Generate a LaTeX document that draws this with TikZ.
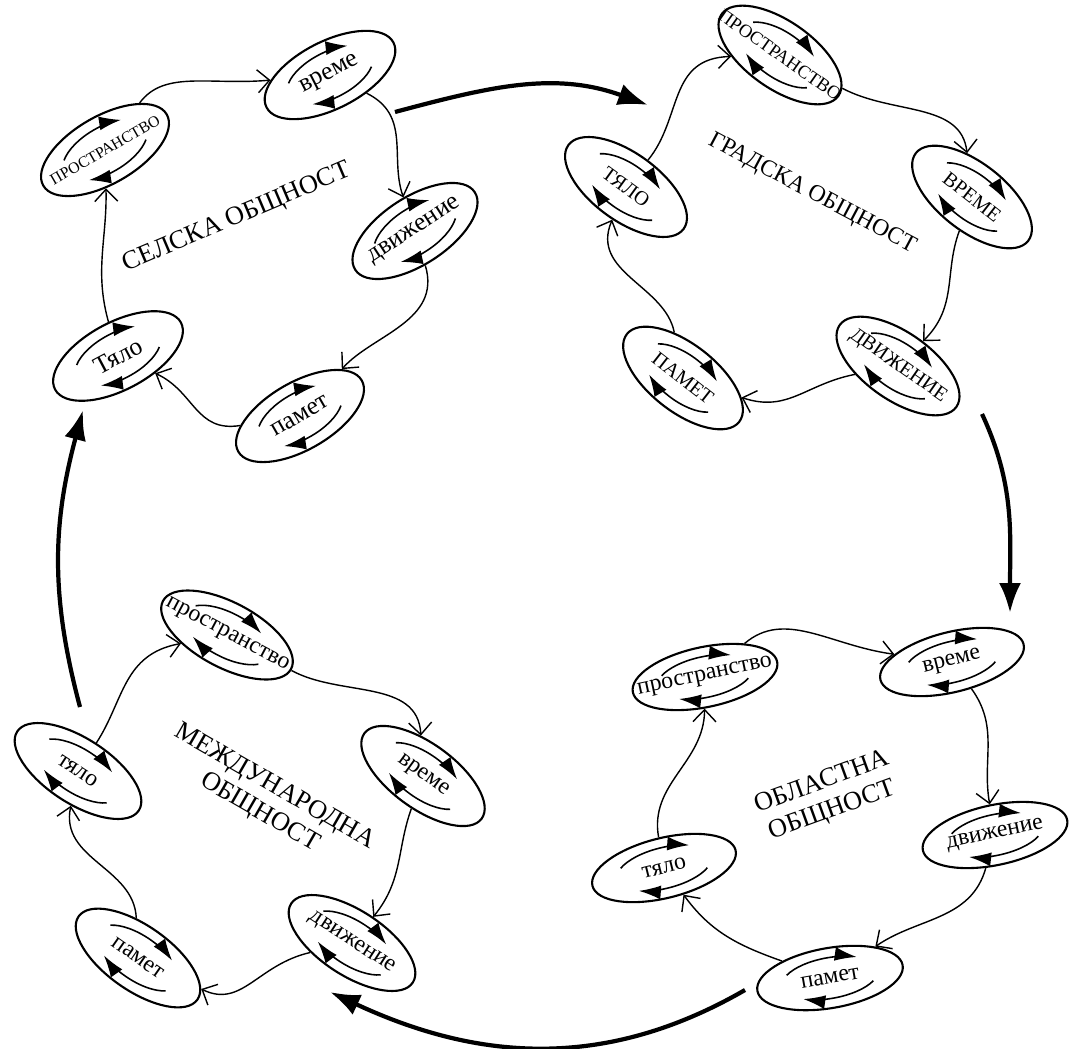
\documentclass[tikz,border=0pt]{standalone}
\usepackage{fontspec}
\setmainfont{Liberation Serif}
\usepackage{tikz}
\usetikzlibrary{shapes.geometric, arrows.meta}

\newcommand{\stage}[6]{%
  \begin{scope}[shift={#2}, rotate=#3]
    \node[oval, minimum width=#4cm, minimum height=#5cm, transform shape] (#1) at (0,0) {\makebox[0pt]{#6}};
    \pgfmathsetmacro{\swx}{0.33*#4}\pgfmathsetmacro{\swy}{0.34*#5}
    \draw[swirl] (150:\swx cm and \swy cm) arc[start angle=150, end angle=52, x radius=\swx cm, y radius=\swy cm];
    \draw[swirl] (-30:\swx cm and \swy cm) arc[start angle=-30, end angle=-128, x radius=\swx cm, y radius=\swy cm];
  \end{scope}}

\begin{document}
\begin{tikzpicture}[
    oval/.style={ellipse, draw, line width=1.2pt, inner sep=0pt, font=\fontsize{13.5}{14}\selectfont},
    swirl/.style={-{Latex[length=4.4mm, width=2.8mm]}, line width=0.9pt},
    link/.style={-{Straight Barb[length=2.4mm, width=4.6mm]}, line width=0.8pt},
    bigarrow/.style={-{Latex[length=6mm, width=4.4mm]}, line width=2.4pt},
    title/.style={font=\fontsize{15}{17}\selectfont, align=center}
]
    \useasboundingbox (0,0) rectangle (21.4,-20.96);

    \stage{rural-space}{(2.10,-3.00)}{30}{2.85}{1.35}{\fontsize{9}{10}\selectfont ПРОСТРАНСТВО}
    \stage{rural-time}{(6.60,-1.50)}{27}{2.85}{1.35}{\fontsize{14.5}{15}\selectfont време}
    \stage{rural-move}{(8.30,-4.62)}{33}{2.85}{1.35}{\fontsize{14.5}{15}\selectfont движение}
    \stage{rural-mem}{(6.00,-8.32)}{30}{2.85}{1.35}{\fontsize{14.5}{15}\selectfont памет}
    \stage{rural-body}{(2.36,-7.12)}{28}{2.85}{1.35}{\fontsize{14.5}{15}\selectfont Тяло}
    \node[title, rotate=23] (rural) at (4.74,-4.36) {СЕЛСКА ОБЩНОСТ};

    \draw[link] (rural-space) to[out=40, in=170] (rural-time);
    \draw[link] (rural-time) to[out=-40, in=95] (rural-move);
    \draw[link] (rural-move) to[out=-85, in=35] (rural-mem);
    \draw[link] (rural-mem) to[out=170, in=-40] (rural-body);
    \draw[link] (rural-body) to[out=95, in=-100] (rural-space);

    \stage{urban-space}{(15.60,-1.10)}{-35}{2.85}{1.35}{\fontsize{10.5}{11}\selectfont ПРОСТРАНСТВО}
    \stage{urban-time}{(19.44,-3.94)}{-38}{2.85}{1.35}{\fontsize{11.5}{12}\selectfont ВРЕМЕ}
    \stage{urban-move}{(17.96,-7.32)}{-35}{2.85}{1.35}{\fontsize{11.5}{12}\selectfont ДВИЖЕНИЕ}
    \stage{urban-mem}{(13.66,-7.56)}{-38}{2.85}{1.35}{\fontsize{11.5}{12}\selectfont ПАМЕТ}
    \stage{urban-body}{(12.52,-3.74)}{-36}{2.85}{1.35}{\fontsize{11.5}{12}\selectfont ТЯЛО}
    \node[title, rotate=-28, font=\fontsize{13.5}{15}\selectfont] (urban) at (16.24,-3.88) {ГРАДСКА ОБЩНОСТ};

    \draw[link] (urban-body) to[out=65, in=-160] (urban-space);
    \draw[link] (urban-space) to[out=-10, in=110] (urban-time);
    \draw[link] (urban-time) to[out=-95, in=60] (urban-move);
    \draw[link] (urban-move) to[out=-150, in=5] (urban-mem);
    \draw[link] (urban-mem) to[out=115, in=-100] (urban-body);

    \stage{intl-space}{(4.54,-12.70)}{-28}{2.9}{1.3}{пространство}
    \stage{intl-time}{(8.46,-15.52)}{-36}{2.9}{1.3}{време}
    \stage{intl-move}{(7.04,-18.86)}{-33}{2.9}{1.3}{движение}
    \stage{intl-mem}{(2.76,-19.16)}{-35}{2.9}{1.3}{памет}
    \stage{intl-body}{(1.56,-15.42)}{-33}{2.9}{1.3}{тяло}
    \node[title, rotate=-30] (intl) at (5.34,-16.00) {МЕЖДУНАРОДНА\\ОБЩНОСТ};

    \draw[link] (intl-body) to[out=70, in=-155] (intl-space);
    \draw[link] (intl-space) to[out=-15, in=105] (intl-time);
    \draw[link] (intl-time) to[out=-95, in=65] (intl-move);
    \draw[link] (intl-move) to[out=-150, in=-5] (intl-mem);
    \draw[link] (intl-mem) to[out=105, in=-90] (intl-body);

    \stage{region-space}{(14.10,-13.54)}{12}{2.95}{1.2}{пространство}
    \stage{region-time}{(19.04,-13.24)}{14}{2.95}{1.2}{време}
    \stage{region-move}{(19.90,-16.70)}{12}{2.95}{1.2}{движение}
    \stage{region-mem}{(16.60,-19.56)}{10}{2.95}{1.2}{памет}
    \stage{region-body}{(13.28,-17.36)}{14}{2.95}{1.2}{тяло}
    \node[title, rotate=20] (region) at (16.54,-15.94) {ОБЛАСТНА\\ОБЩНОСТ};

    \draw[link] (region-space) to[out=35, in=165] (region-time);
    \draw[link] (region-time) to[out=-60, in=95] (region-move);
    \draw[link] (region-move) to[out=-110, in=30] (region-mem);
    \draw[link] (region-mem) to[out=155, in=-60] (region-body);
    \draw[link] (region-body) to[out=95, in=-95] (region-space);

    \coordinate (rural-out) at (7.90,-2.24);
    \coordinate (urban-in) at (12.96,-2.10);
    \coordinate (urban-out) at (19.64,-8.28);
    \coordinate (region-in) at (20.20,-12.26);
    \coordinate (region-out) at (14.90,-19.80);
    \coordinate (intl-in) at (6.60,-19.84);
    \coordinate (intl-out) at (1.60,-14.14);
    \coordinate (rural-in) at (1.66,-8.20);

    \draw[bigarrow] (rural-out) to[out=15, in=160] (urban-in);
    \draw[bigarrow] (urban-out) to[out=-65, in=90] (region-in);
    \draw[bigarrow] (region-out) to[out=-150, in=-25] (intl-in);
    \draw[bigarrow] (intl-out) to[out=105, in=-105] (rural-in);
\end{tikzpicture}
\end{document}
